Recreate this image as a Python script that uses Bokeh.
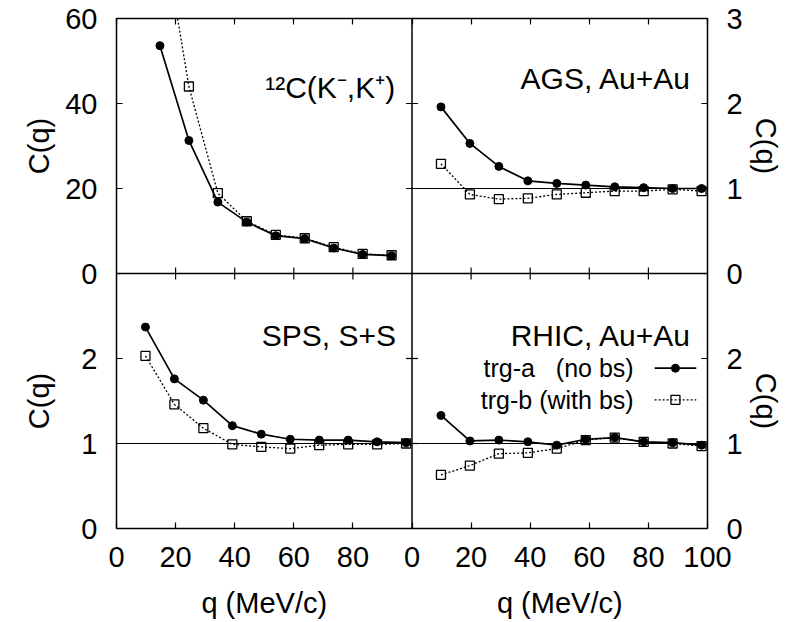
import math
from bokeh.plotting import figure
from bokeh.models import Range1d, LinearAxis, FixedTicker, Span, Label
from bokeh.embed import file_html
from bokeh.resources import INLINE

FONT = "Liberation Sans"

# ---------------- data ----------------
# 12C(K-,K+) panel
q_kk = [14.7, 24.5, 34.3, 44.1, 53.9, 63.7, 73.5, 83.3, 93.1]
c_kk_a = [53.6, 31.3, 16.8, 12.1, 8.9, 8.2, 6.0, 4.5, 4.2]
c_kk_b = [85.0, 44.0, 18.9, 12.3, 9.1, 8.3, 6.2, 4.6, 4.3]

# heavy-ion panels
q_hi = [9.8, 19.6, 29.4, 39.2, 49.0, 58.8, 68.6, 78.4, 88.2, 98.0]
c_ags_a = [1.96, 1.53, 1.26, 1.09, 1.06, 1.04, 1.02, 1.01, 1.00, 1.00]
c_ags_b = [1.29, 0.93, 0.875, 0.885, 0.93, 0.95, 0.97, 0.97, 0.99, 0.97]
c_sps_a = [2.37, 1.76, 1.51, 1.21, 1.11, 1.05, 1.04, 1.04, 1.02, 1.01]
c_sps_b = [2.03, 1.46, 1.18, 0.99, 0.96, 0.94, 0.98, 0.99, 0.99, 1.00]
c_rhic_a = [1.33, 1.03, 1.04, 1.02, 0.98, 1.05, 1.07, 1.02, 1.01, 0.98]
c_rhic_b = [0.63, 0.74, 0.88, 0.89, 0.94, 1.04, 1.07, 1.02, 1.00, 0.97]

x_ticks = [0, 20, 40, 60, 80, 100]
y_ticks_kk = [0, 20, 40, 60]
y_ticks_c = [0, 1, 2, 3]
titles = ["\u00b9\u00b2C(K\u207b,K\u207a)", "AGS, Au+Au", "SPS, S+S", "RHIC, Au+Au"]
series_labels = ["trg-a\u00a0\u00a0\u00a0(no bs)", "trg-b (with bs)"]
x_label = "q (MeV/c)"
y_label = "C(q)"
ref_level = 1.0

Q_MAX = 100
KK_MAX = 60
C_MAX = 3

FS = "29px"
TFS = "30px"
LFS = "25px"

# ---------------- one frame holding the 2x2 panels ----------------
p = figure(width=784, height=622, output_backend="svg", toolbar_location=None,
           x_range=Range1d(0, 2 * Q_MAX), y_range=Range1d(0, 2 * C_MAX),
           x_axis_location=None, y_axis_location=None, min_border=0,
           min_border_left=116, min_border_right=76, min_border_top=18, min_border_bottom=94)
# right-hand panels: q from 0..100 on the right half; top panels on the upper half
p.extra_x_ranges = {"right": Range1d(-Q_MAX, Q_MAX)}
p.extra_y_ranges = {"tl": Range1d(-KK_MAX, KK_MAX), "tr": Range1d(-C_MAX, C_MAX)}
p.grid.visible = False
p.outline_line_color = "black"
p.outline_line_width = 1.5
p.background_fill_color = "white"
p.border_fill_color = "white"


def make_axis(ticks, labels, show, standoff, tick_len=6, orient="horizontal"):
    return LinearAxis(
        ticker=FixedTicker(ticks=ticks),
        major_label_overrides=dict(zip(ticks, labels)),
        axis_line_color=None,
        major_tick_in=tick_len, major_tick_out=0,
        major_tick_line_color="black" if tick_len else None,
        major_tick_line_width=1.2,
        minor_tick_line_color=None,
        major_label_text_font=FONT,
        major_label_text_font_size=FS if show else "0px",
        major_label_text_color="black",
        major_label_standoff=standoff,
        major_label_orientation=orient,
    )


# bottom: tick labels (left panel 0..80, right panel 0..100), then the q titles
bt = [t for t in x_ticks[:-1]] + [Q_MAX + t for t in x_ticks]
bl = [str(t) for t in x_ticks[:-1]] + [str(t) for t in x_ticks]
p.add_layout(make_axis(bt, bl, True, 18), "below")
p.add_layout(make_axis([Q_MAX / 2, Q_MAX * 1.5], [x_label, x_label], True, 17, tick_len=0), "below")
p.add_layout(make_axis(bt, [""] * len(bt), False, 0), "above")

# left: bottom panel 0..2, top (12C) panel 0..60, then the C(q) titles
lt = [t for t in y_ticks_c[:-1]] + [C_MAX + t * C_MAX / KK_MAX for t in y_ticks_kk]
ll = [str(t) for t in y_ticks_c[:-1]] + [str(t) for t in y_ticks_kk]
p.add_layout(make_axis(lt, ll, True, 19), "left")
p.add_layout(make_axis([C_MAX / 2, C_MAX * 1.5], [y_label, y_label], True, 8, tick_len=0,
                       orient="vertical"), "left")

# right: bottom panel 0..2, top panel 0..3, then the C(q) titles
rt = [t for t in y_ticks_c[:-1]] + [C_MAX + t for t in y_ticks_c]
rl = [str(t) for t in y_ticks_c[:-1]] + [str(t) for t in y_ticks_c]
p.add_layout(make_axis(rt, rl, True, 19), "right")
p.add_layout(make_axis([C_MAX / 2, C_MAX * 1.5], [y_label, y_label], True, 4, tick_len=0,
                       orient="vertical"), "right")

# panel dividers
p.add_layout(Span(location=Q_MAX, dimension="height", line_color="black", line_width=1.5))
p.add_layout(Span(location=C_MAX, dimension="width", line_color="black", line_width=1.5))

# inner ticks on the dividers (pointing into both neighbouring panels)
vy = [t for t in y_ticks_c[1:-1]] + [C_MAX + t for t in y_ticks_c[1:-1]]
p.scatter([Q_MAX] * len(vy), vy, marker="dash", size=12, angle=0,
          line_color="black", line_width=1.2)
hx = [t for t in x_ticks[1:-1]] + [Q_MAX + t for t in x_ticks[1:-1]]
p.scatter(hx, [C_MAX] * len(hx), marker="dash", size=12, angle=math.pi / 2,
          line_color="black", line_width=1.2)

# reference lines C=1
p.add_layout(Span(location=ref_level, dimension="width", line_color="black", line_width=1.2))
p.segment(x0=[0], x1=[Q_MAX], y0=[ref_level], y1=[ref_level],
          x_range_name="right", y_range_name="tr", line_color="black", line_width=1.2)


def series(xs, ya, yb, xr, yr):
    kw = dict(x_range_name=xr, y_range_name=yr)
    p.line(xs, yb, line_dash="2 2", line_width=1.3, line_color="black", **kw)
    p.scatter(xs, yb, marker="square", size=9, fill_color=None,
              line_color="black", line_width=1.3, **kw)
    p.line(xs, ya, line_width=1.7, line_color="black", **kw)
    p.scatter(xs, ya, marker="circle", size=8, fill_color="black",
              line_color="black", **kw)


series(q_kk, c_kk_a, c_kk_b, "default", "tl")
series(q_hi, c_ags_a, c_ags_b, "right", "tr")
series(q_hi, c_sps_a, c_sps_b, "default", "default")
series(q_hi, c_rhic_a, c_rhic_b, "right", "default")

# panel titles (x in each panel's q, y in each panel's C)
title_pos = [(94.3, 43.8, "default", "tl"), (94.6, 2.29, "right", "tr"),
             (94.6, 2.27, "default", "default"), (94.6, 2.27, "right", "default")]
for (tx, ty, xr, yr), t in zip(title_pos, titles):
    p.add_layout(Label(x=tx, y=ty, x_range_name=xr, y_range_name=yr, text=t,
                       text_align="right", text_baseline="alphabetic",
                       text_font=FONT, text_font_size=TFS, text_color="black"))

# key (inside RHIC panel)
LEG_TX = 75.0
LEG_X = [82.1, 96.2]
LEG_Y = [1.886, 1.514]
mid = (LEG_X[0] + LEG_X[1]) / 2
for lab, ly in zip(series_labels, LEG_Y):
    p.add_layout(Label(x=LEG_TX, y=ly, x_range_name="right", text=lab, text_align="right",
                       text_baseline="middle", text_font=FONT, text_font_size=LFS,
                       text_color="black"))
p.line(LEG_X, [LEG_Y[0]] * 2, x_range_name="right", line_width=1.7, line_color="black")
p.scatter([mid], [LEG_Y[0]], x_range_name="right", marker="circle", size=8,
          fill_color="black", line_color="black")
p.line(LEG_X, [LEG_Y[1]] * 2, x_range_name="right", line_dash="2 2", line_width=1.3,
       line_color="black")
p.scatter([mid], [LEG_Y[1]], x_range_name="right", marker="square", size=9,
          fill_color=None, line_color="black", line_width=1.3)

open("out.html", "w").write(file_html(p, INLINE))
